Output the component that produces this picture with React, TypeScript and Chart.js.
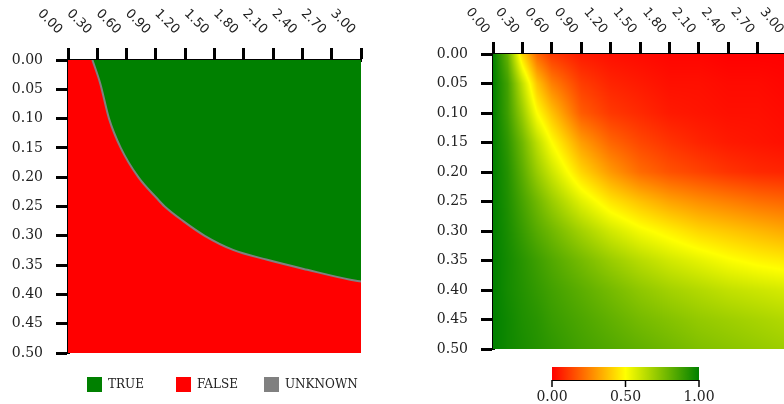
import React, { useEffect, useRef } from 'react';
import { Chart, registerables } from 'chart.js';

Chart.register(...registerables);

// ---------- shared axis ticks ----------
const xTickValues = [0, 0.3, 0.6, 0.9, 1.2, 1.5, 1.8, 2.1, 2.4, 2.7, 3.0];
const xTickLabels = ['0.00', '0.30', '0.60', '0.90', '1.20', '1.50', '1.80', '2.10', '2.40', '2.70', '3.00'];
const yTickValues = [0, 0.05, 0.1, 0.15, 0.2, 0.25, 0.3, 0.35, 0.4, 0.45, 0.5];
const yTickLabels = ['0.00', '0.05', '0.10', '0.15', '0.20', '0.25', '0.30', '0.35', '0.40', '0.45', '0.50'];

// ---------- left plot: TRUE / FALSE regions ----------
const boundaryX = [0.25, 0.33, 0.42, 0.54, 0.72, 0.91, 0.99, 1.18, 1.40, 1.69, 2.04, 2.45, 2.89, 3.0];
const boundaryY = [0, 0.04, 0.10, 0.15, 0.20, 0.236, 0.25, 0.275, 0.30, 0.324, 0.341, 0.358, 0.375, 0.378];
const falseAreaX = [0, 3];
const falseAreaY = [0.5, 0.5];

const legendLabels = ['TRUE', 'FALSE', 'UNKNOWN'];
const legendColors = ['#008000', '#ff0000', '#808080'];

// ---------- right plot: probability heatmap ----------
const heatX = [0, 0.15, 0.3, 0.45, 0.6, 0.9, 1.2, 1.5, 1.8, 2.1, 2.4, 2.7, 3.0];
const heatY = [0, 0.05, 0.1, 0.15, 0.2, 0.25, 0.3, 0.35, 0.4, 0.45, 0.5];
const heatRow000 = [1.0, 0.80, 0.42, 0.20, 0.11, 0.05, 0.03, 0.02, 0.01, 0.01, 0.0, 0.0, 0.0];
const heatRow005 = [1.0, 0.87, 0.62, 0.38, 0.25, 0.12, 0.07, 0.05, 0.03, 0.03, 0.02, 0.02, 0.01];
const heatRow010 = [1.0, 0.88, 0.70, 0.50, 0.38, 0.18, 0.11, 0.08, 0.05, 0.04, 0.03, 0.03, 0.02];
const heatRow015 = [1.0, 0.91, 0.78, 0.63, 0.50, 0.31, 0.20, 0.14, 0.10, 0.07, 0.05, 0.04, 0.03];
const heatRow020 = [1.0, 0.93, 0.82, 0.70, 0.60, 0.42, 0.30, 0.21, 0.16, 0.13, 0.10, 0.08, 0.07];
const heatRow025 = [1.0, 0.94, 0.86, 0.78, 0.70, 0.56, 0.45, 0.38, 0.32, 0.28, 0.25, 0.22, 0.20];
const heatRow030 = [1.0, 0.95, 0.89, 0.83, 0.78, 0.68, 0.59, 0.52, 0.47, 0.42, 0.39, 0.36, 0.33];
const heatRow035 = [1.0, 0.96, 0.92, 0.88, 0.84, 0.77, 0.70, 0.64, 0.59, 0.55, 0.51, 0.48, 0.46];
const heatRow040 = [1.0, 0.96, 0.93, 0.90, 0.87, 0.82, 0.77, 0.72, 0.68, 0.65, 0.62, 0.60, 0.58];
const heatRow045 = [1.0, 0.97, 0.94, 0.92, 0.89, 0.85, 0.81, 0.77, 0.74, 0.71, 0.69, 0.67, 0.65];
const heatRow050 = [1.0, 0.97, 0.95, 0.93, 0.91, 0.87, 0.84, 0.81, 0.78, 0.75, 0.73, 0.71, 0.69];
const heatValues = [heatRow000, heatRow005, heatRow010, heatRow015, heatRow020, heatRow025,
  heatRow030, heatRow035, heatRow040, heatRow045, heatRow050];

const colorStopValues = [0, 0.5, 1];
const colorStopRGB = [[255, 0, 0], [255, 255, 0], [0, 128, 0]];
const colorbarTicks = [0, 0.5, 1];
const colorbarLabels = ['0.00', '0.50', '1.00'];

const FONT = "'DejaVu Serif', serif";
const SANS = "'DejaVu Sans', sans-serif";
const TEXT = '#222';

function colorFor(v: number): number[] {
  const c = Math.max(0, Math.min(1, v));
  for (let i = 0; i < colorStopValues.length - 1; i++) {
    const a = colorStopValues[i], b = colorStopValues[i + 1];
    if (c <= b || i === colorStopValues.length - 2) {
      const t = (c - a) / (b - a);
      const ca = colorStopRGB[i], cb = colorStopRGB[i + 1];
      return [0, 1, 2].map((k) => Math.round(ca[k] + (cb[k] - ca[k]) * t));
    }
  }
  return colorStopRGB[colorStopRGB.length - 1];
}

function locate(arr: number[], v: number) {
  if (v <= arr[0]) return { i: 0, t: 0 };
  for (let i = 0; i < arr.length - 1; i++) {
    if (v <= arr[i + 1]) return { i, t: (v - arr[i]) / (arr[i + 1] - arr[i]) };
  }
  return { i: arr.length - 2, t: 1 };
}

function heatAt(x: number, y: number) {
  const px = locate(heatX, x);
  const py = locate(heatY, y);
  const r0 = heatValues[py.i], r1 = heatValues[py.i + 1];
  const a = r0[px.i] + (r0[px.i + 1] - r0[px.i]) * px.t;
  const b = r1[px.i] + (r1[px.i + 1] - r1[px.i]) * px.t;
  return a + (b - a) * py.t;
}

function makeScales(topH: number, leftW: number) {
  return {
    x: {
      type: 'linear', position: 'top', min: 0, max: 3, z: 1,
      afterBuildTicks: (s: any) => { s.ticks = xTickValues.map((v) => ({ value: v })); },
      afterFit: (s: any) => { s.height = topH; },
      ticks: { display: false },
      grid: { drawOnChartArea: false, drawTicks: true, tickLength: 12, tickWidth: 3, tickColor: '#000' },
      border: { display: true, color: '#000', width: 3 },
    },
    y: {
      type: 'linear', position: 'left', min: 0, max: 0.5, reverse: true, z: 1,
      afterBuildTicks: (s: any) => { s.ticks = yTickValues.map((v) => ({ value: v })); },
      afterFit: (s: any) => { s.width = leftW; },
      ticks: {
        padding: 13, color: TEXT, font: { family: FONT, size: 14 },
        callback: (_v: any, i: number) => yTickLabels[i],
      },
      grid: { drawOnChartArea: false, drawTicks: true, tickLength: 12, tickWidth: 3, tickColor: '#000' },
      border: { display: true, color: '#000', width: 3 },
    },
  };
}

function topLabelsPlugin(size: number, angleDeg: number, dx: number, dy: number) {
  return {
    id: 'topLabels',
    afterDraw(chart: any) {
      const ctx = chart.ctx;
      const xs = chart.scales.x;
      const top = chart.chartArea.top;
      ctx.save();
      ctx.fillStyle = TEXT;
      ctx.font = `${size}px ${SANS}`;
      ctx.textAlign = 'right';
      ctx.textBaseline = 'middle';
      xTickValues.forEach((v, i) => {
        const px = xs.getPixelForValue(v);
        ctx.save();
        ctx.translate(px + dx, top + dy);
        ctx.rotate((angleDeg * Math.PI) / 180);
        ctx.fillText(xTickLabels[i], 0, 0);
        ctx.restore();
      });
      ctx.restore();
    },
  };
}

const legendPlugin = {
  id: 'regionLegend',
  afterDraw(chart: any) {
    const ctx = chart.ctx;
    const left = chart.chartArea.left;
    const offsets = [19, 108, 196];
    const y = 377;
    ctx.save();
    ctx.font = `12px ${FONT}`;
    ctx.textBaseline = 'middle';
    ctx.textAlign = 'left';
    legendLabels.forEach((lab, i) => {
      const bx = left + offsets[i];
      ctx.fillStyle = legendColors[i];
      ctx.fillRect(bx, y, 15, 15);
      ctx.fillStyle = TEXT;
      ctx.fillText(lab, bx + 21, y + 8);
    });
    ctx.restore();
  },
};

const heatmapPlugin = {
  id: 'heatmap',
  beforeDatasetsDraw(chart: any) {
    const { left, top, right, bottom } = chart.chartArea;
    const w = Math.round(right - left), h = Math.round(bottom - top);
    const xs = chart.scales.x, ys = chart.scales.y;
    const off = document.createElement('canvas');
    off.width = w; off.height = h;
    const octx = off.getContext('2d')!;
    const img = octx.createImageData(w, h);
    for (let j = 0; j < h; j++) {
      const yv = ys.getValueForPixel(top + j + 0.5);
      for (let i = 0; i < w; i++) {
        const xv = xs.getValueForPixel(left + i + 0.5);
        const c = colorFor(heatAt(xv, yv));
        const k = (j * w + i) * 4;
        img.data[k] = c[0]; img.data[k + 1] = c[1]; img.data[k + 2] = c[2]; img.data[k + 3] = 255;
      }
    }
    octx.putImageData(img, 0, 0);
    chart.ctx.drawImage(off, Math.round(left), Math.round(top));
  },
};

const colorbarPlugin = {
  id: 'colorbar',
  afterDraw(chart: any) {
    const ctx = chart.ctx;
    const x0 = chart.chartArea.left + 59;
    const x1 = x0 + 147;
    const y0 = 367, y1 = 380;
    const g = ctx.createLinearGradient(x0, 0, x1, 0);
    colorStopValues.forEach((v, i) => {
      const c = colorStopRGB[i];
      g.addColorStop(v, `rgb(${c[0]},${c[1]},${c[2]})`);
    });
    ctx.save();
    ctx.fillStyle = g;
    ctx.fillRect(x0, y0, x1 - x0, y1 - y0);
    ctx.strokeStyle = '#000';
    ctx.lineWidth = 1;
    ctx.beginPath();
    ctx.moveTo(x0, y1 + 0.5); ctx.lineTo(x1, y1 + 0.5);
    ctx.stroke();
    ctx.lineWidth = 1.5;
    ctx.fillStyle = TEXT;
    ctx.font = `14px ${FONT}`;
    ctx.textAlign = 'center';
    ctx.textBaseline = 'middle';
    colorbarTicks.forEach((v, i) => {
      const px = x0 + v * (x1 - x0);
      ctx.beginPath();
      ctx.moveTo(px, y1); ctx.lineTo(px, y1 + 7);
      ctx.stroke();
      ctx.fillText(colorbarLabels[i], px, 397);
    });
    ctx.restore();
  },
};

function LeftChart() {
  const ref = useRef<HTMLCanvasElement>(null);
  useEffect(() => {
    const pts = boundaryX.map((x, i) => ({ x, y: boundaryY[i] }));
    const falsePts = falseAreaX.map((x, i) => ({ x, y: falseAreaY[i] }));
    const chart = new Chart(ref.current!, {
      type: 'line',
      data: {
        datasets: [
          { label: 'UNKNOWN', data: pts, borderColor: '#808080', borderWidth: 2, pointRadius: 0, fill: false, cubicInterpolationMode: 'monotone' },
          { label: 'TRUE', data: pts, borderColor: 'rgba(0,0,0,0)', borderWidth: 0, pointRadius: 0, fill: { value: 0 }, backgroundColor: '#008000', cubicInterpolationMode: 'monotone' },
          { label: 'FALSE', data: falsePts, borderColor: 'rgba(0,0,0,0)', borderWidth: 0, pointRadius: 0, fill: { value: 0 }, backgroundColor: '#ff0000' },
        ],
      } as any,
      options: {
        responsive: false, animation: false,
        layout: { padding: { left: 0, top: 0, right: 64, bottom: 51 } },
        scales: makeScales(60, 68) as any,
        plugins: { legend: { display: false }, tooltip: { enabled: false } },
      } as any,
      plugins: [topLabelsPlugin(13, 45, -8, -28), legendPlugin],
    });
    return () => chart.destroy();
  }, []);
  return <canvas ref={ref} width={425} height={404} style={{ position: 'absolute', left: 0, top: 0 }} />;
}

function RightChart() {
  const ref = useRef<HTMLCanvasElement>(null);
  useEffect(() => {
    const chart = new Chart(ref.current!, {
      type: 'scatter',
      data: { datasets: [] },
      options: {
        responsive: false, animation: false,
        layout: { padding: { left: 0, top: 0, right: 63, bottom: 55 } },
        scales: makeScales(54, 68) as any,
        plugins: { legend: { display: false }, tooltip: { enabled: false } },
      } as any,
      plugins: [heatmapPlugin, topLabelsPlugin(13, 50, -6, -22), colorbarPlugin],
    });
    return () => chart.destroy();
  }, []);
  return <canvas ref={ref} width={425} height={404} style={{ position: 'absolute', left: 425, top: 0 }} />;
}

export default function App() {
  return (
    <div style={{ position: 'absolute', left: 0, top: 0, width: 784, height: 404, overflow: 'hidden', background: '#fff' }}>
      <LeftChart />
      <RightChart />
    </div>
  );
}
